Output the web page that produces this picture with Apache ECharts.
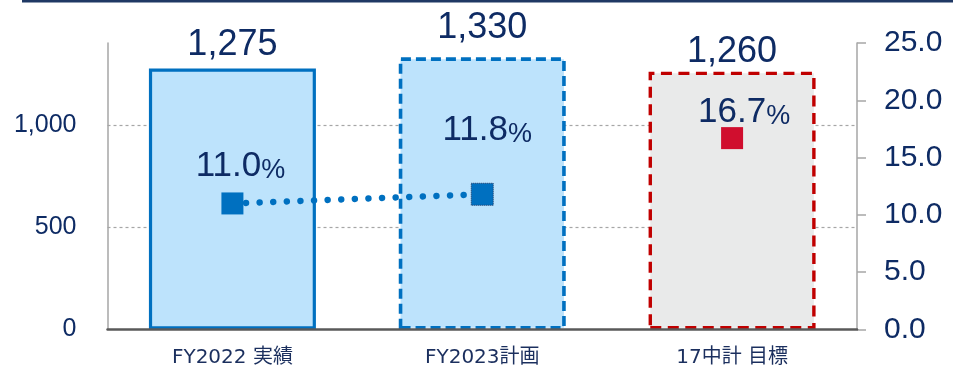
<!DOCTYPE html>
<html>
<head>
<meta charset="utf-8">
<script src="https://cdn.jsdelivr.net/npm/echarts@6/dist/echarts.min.js"></script>
<style>
  html, body { margin: 0; padding: 0; background: #ffffff; }
  #chart { width: 953px; height: 368px; }
</style>
</head>
<body>
<div id="chart"></div>
<script>
// Categories and values
var categories = ['FY2022 実績', 'FY2023計画', '17中計 目標'];
var salesValues = [1275, 1330, 1260];       // left axis
var marginValues = [11.0, 11.8, 16.7];      // right axis, %
var leftAxisMax = 1400;
var leftAxisStep = 500;
var rightAxisMax = 25;
var rightAxisStep = 5;

var NAVY = '#0E2B64';
var BLUE = '#0070C0';
var LIGHT_BLUE = '#BDE3FC';
var RED = '#C00000';
var MARKER_RED = '#D00E2E';
var LIGHT_GRAY = '#E9EAEA';
var NUM_FONT = '"Liberation Sans", Arial, sans-serif';
var CAT_FONT = '"DejaVu Sans", "Noto Sans CJK JP", sans-serif';

// Per-bar looks: actual (solid blue), plan (dashed blue), target (dashed red)
var barLooks = [
  { fill: LIGHT_BLUE, border: BLUE, type: 'solid', width: 3.2, labelGap: 6 },
  { fill: LIGHT_BLUE, border: BLUE, type: [10, 5], width: 3.6, labelGap: 11 },
  { fill: LIGHT_GRAY, border: RED, type: [11, 6.5], width: 3.4, labelGap: 2 }
];
// Per-marker looks and label placement
var markerLooks = [
  { color: BLUE, border: null, labelShift: [8, -37] },
  { color: BLUE, border: '#1F3864', labelShift: [5, -64] },
  { color: MARKER_RED, border: null, labelShift: [12, -26] }
];

var barData = salesValues.map(function (v, i) {
  var look = barLooks[i];
  return {
    value: v,
    itemStyle: {
      color: look.fill,
      borderColor: look.border,
      borderWidth: look.width,
      borderType: look.type
    },
    label: { distance: look.labelGap }
  };
});

var markerData = marginValues.map(function (v, i) {
  var look = markerLooks[i];
  var item = {
    value: v,
    itemStyle: { color: look.color, opacity: 1 },
    label: { offset: look.labelShift }
  };
  if (look.border) {
    item.itemStyle.borderColor = look.border;
    item.itemStyle.borderWidth = 1;
    item.itemStyle.borderType = 'dotted';
  }
  return item;
});

// Dotted link between the actual and the plan markers
var linkData = marginValues.slice(0, 2);

var chart = echarts.init(document.getElementById('chart'), null, { renderer: 'canvas' });

chart.setOption({
  animation: false,
  backgroundColor: '#ffffff',
  graphic: [{
    type: 'rect',
    shape: { x: 22, y: 0, width: 931, height: 2.5 },
    style: { fill: '#1F3864' },
    silent: true
  }],
  grid: {
    left: 107.5,
    right: 96,
    top: 43,
    bottom: 38.5,
    containLabel: false,
    outerBoundsMode: 'none'
  },
  xAxis: {
    type: 'category',
    data: categories,
    z: 10,
    axisLine: { show: true, lineStyle: { color: '#595959', width: 2.5 } },
    axisTick: { show: false },
    axisLabel: {
      color: '#1B2F5E',
      fontFamily: CAT_FONT,
      fontSize: 20,
      margin: 18
    },
    splitLine: { show: false }
  },
  yAxis: [{
    type: 'value',
    min: 0,
    max: leftAxisMax,
    interval: leftAxisStep,
    position: 'left',
    axisLine: { show: true, lineStyle: { color: '#A6A6A6', width: 1.5 } },
    axisTick: { show: false },
    axisLabel: {
      color: NAVY,
      fontFamily: NUM_FONT,
      fontSize: 25,
      margin: 31,
      showMaxLabel: false,
      formatter: function (v) {
        return v % leftAxisStep === 0 ? v.toLocaleString('en-US') : '';
      }
    },
    splitLine: {
      show: true,
      showMinLine: false,
      showMaxLine: false,
      lineStyle: { color: '#A6A6A6', width: 1.2, type: [3, 3] }
    }
  }, {
    type: 'value',
    min: 0,
    max: rightAxisMax,
    interval: rightAxisStep,
    position: 'right',
    axisLine: { show: true, lineStyle: { color: '#A6A6A6', width: 1.5 } },
    axisTick: { show: true, inside: false, length: 9, lineStyle: { color: '#A6A6A6', width: 1.5 } },
    axisLabel: {
      color: NAVY,
      fontFamily: NUM_FONT,
      fontSize: 30,
      margin: 27,
      formatter: function (v) { return v.toFixed(1); }
    },
    splitLine: { show: false }
  }],
  series: [{
    name: 'sales',
    type: 'bar',
    yAxisIndex: 0,
    barWidth: 167,
    data: barData,
    z: 2,
    label: {
      show: true,
      position: 'top',
      color: NAVY,
      fontFamily: NUM_FONT,
      fontSize: 36,
      formatter: function (p) { return p.value.toLocaleString('en-US'); }
    }
  }, {
    name: 'link',
    type: 'line',
    yAxisIndex: 1,
    data: linkData,
    showSymbol: false,
    symbol: 'none',
    z: 3,
    lineStyle: { color: BLUE, width: 6.5, type: [0.01, 13.6], cap: 'round' }
  }, {
    name: 'margin',
    type: 'scatter',
    yAxisIndex: 1,
    symbol: 'rect',
    symbolSize: 22,
    data: markerData,
    z: 4,
    itemStyle: { opacity: 1 },
    label: {
      show: true,
      position: 'inside',
      formatter: function (p) { return '{n|' + p.value.toFixed(1) + '}{p|%}'; },
      rich: {
        n: { color: NAVY, fontFamily: NUM_FONT, fontSize: 35, verticalAlign: 'bottom' },
        p: { color: NAVY, fontFamily: NUM_FONT, fontSize: 27, verticalAlign: 'bottom' }
      }
    }
  }]
});
</script>
</body>
</html>
